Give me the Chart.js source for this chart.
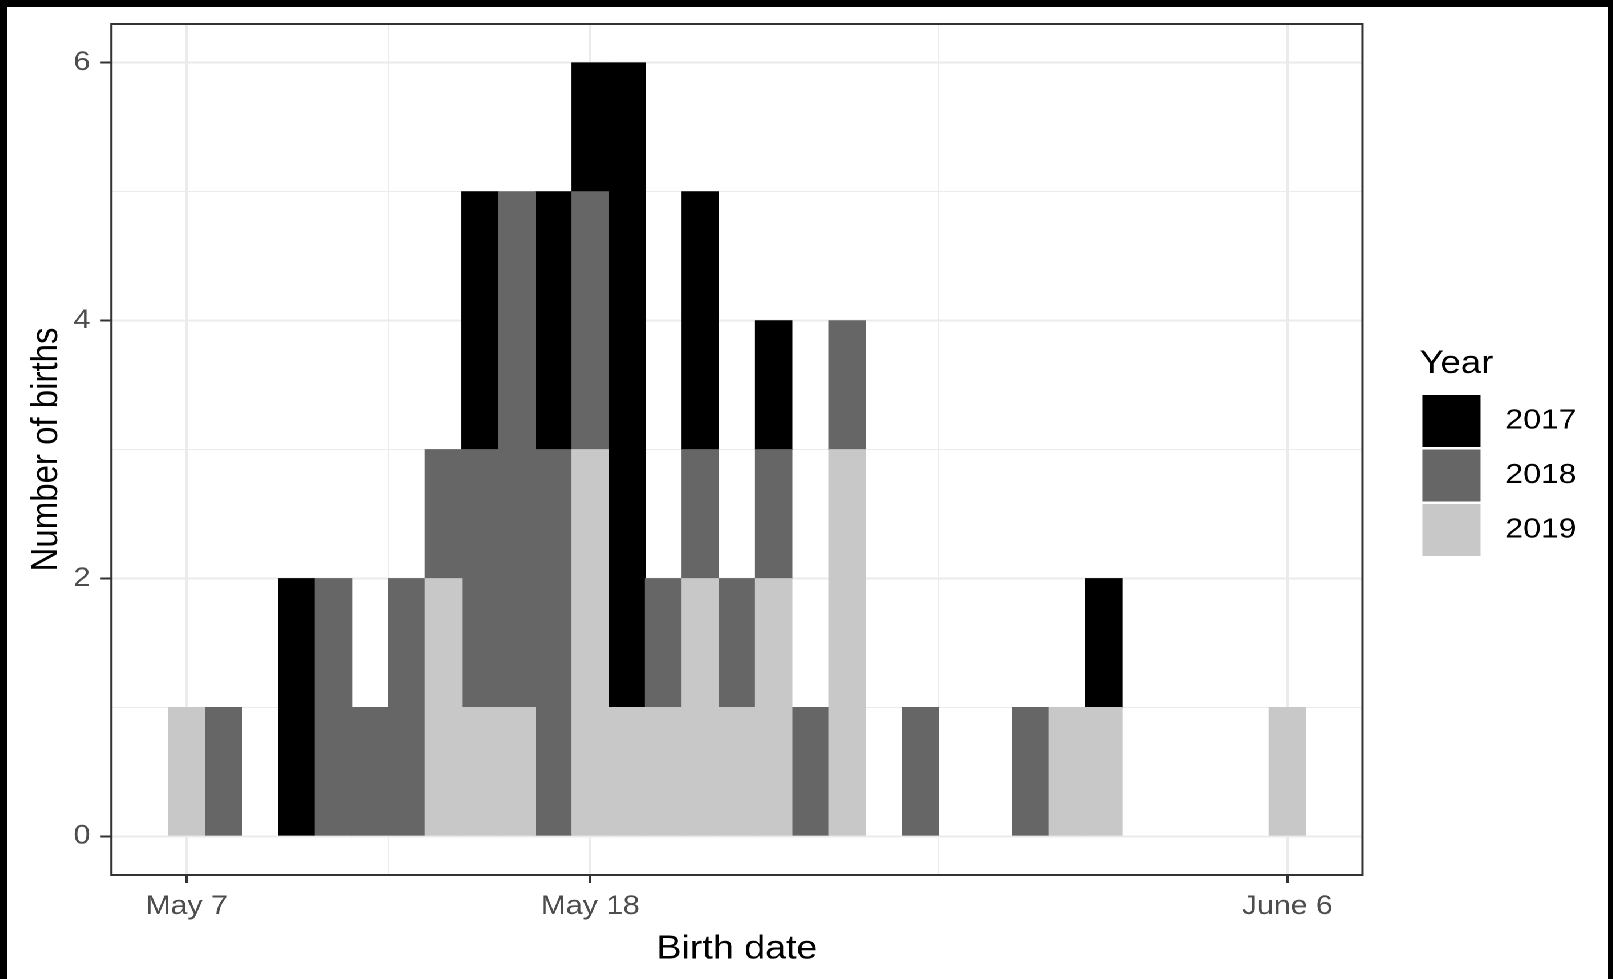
<!DOCTYPE html>
<html>
<head>
<meta charset="utf-8">
<script src="https://cdn.jsdelivr.net/npm/chart.js@4/dist/chart.umd.min.js"></script>
<style>
  html, body { margin: 0; padding: 0; background: #000; overflow: hidden; }
  #wrap {
    position: absolute; left: 7px; top: 7px;
    width: 1404px; height: 972px;
    background: #fff;
    transform: scaleX(1.1403); transform-origin: 0 0;
  }
</style>
</head>
<body>
<div id="wrap"><canvas id="chart"></canvas></div>
<script>
// days counted from May 7
const dayOffsets = [0, 1, 2, 3, 4, 5, 6, 7, 8, 9, 10, 11, 12, 13, 14, 15, 16, 17, 18, 19, 20, 21, 22, 23, 24, 25, 26, 27, 28, 29, 30];
const births2017 = [0, 0, 0, 2, 0, 0, 0, 0, 2, 0, 2, 1, 5, 0, 2, 0, 1, 0, 0, 0, 0, 0, 0, 0, 0, 1, 0, 0, 0, 0, 0];
const births2018 = [0, 1, 0, 0, 2, 1, 2, 1, 2, 4, 3, 2, 0, 1, 1, 1, 1, 1, 1, 0, 1, 0, 0, 1, 0, 0, 0, 0, 0, 0, 0];
const births2019 = [1, 0, 0, 0, 0, 0, 0, 2, 1, 1, 0, 3, 1, 1, 2, 1, 2, 0, 3, 0, 0, 0, 0, 0, 1, 1, 0, 0, 0, 0, 1];

const xTickDays = [0, 11, 30];
const xTickLabels = ["May 7", "May 18", "June 6"];
const yTicks = [0, 2, 4, 6];

const ink = "#333333";
const gridCol = "#EBEBEB";
const font = "'Liberation Sans', Arial, sans-serif";

function midpoints(arr) {
  let out = [];
  for (let i = 0; i < arr.length - 1; i++) out.push((arr[i] + arr[i + 1]) / 2);
  return out;
}
const xMinor = midpoints(xTickDays);
const yMinor = midpoints(yTicks);

// empty days get no bar at all
function toPoints(values) {
  return values.map((v, i) => ({ x: dayOffsets[i], y: v === 0 ? null : v }));
}

const panelBorder = {
  id: "panelBorder",
  afterDatasetsDraw(chart) {
    const { ctx, chartArea: a } = chart;
    ctx.save();
    ctx.strokeStyle = ink;
    ctx.lineWidth = 2;
    ctx.strokeRect(a.left, a.top, a.right - a.left, a.bottom - a.top);
    ctx.restore();
  }
};

Chart.defaults.font.family = font;

new Chart(document.getElementById("chart"), {
  type: "bar",
  data: {
    datasets: [
      { label: "2019", data: toPoints(births2019), backgroundColor: "#C8C8C8", borderWidth: 0 },
      { label: "2018", data: toPoints(births2018), backgroundColor: "#666666", borderWidth: 0 },
      { label: "2017", data: toPoints(births2017), backgroundColor: "#000000", borderWidth: 0 }
    ]
  },
  plugins: [panelBorder],
  options: {
    responsive: true,
    maintainAspectRatio: false,
    animation: false,
    devicePixelRatio: 2,
    barPercentage: 1,
    categoryPercentage: 1,
    layout: { padding: { top: 17, right: 17.7, bottom: 0, left: 0 } },
    plugins: {
      tooltip: { enabled: false },
      legend: {
        position: "right",
        fullSize: false,
        reverse: true,
        title: {
          display: true,
          text: "Year",
          position: "start",
          color: "#000",
          font: { size: 32 },
          padding: { top: 7.5, bottom: 6.1 }
        },
        labels: {
          boxWidth: 51,
          boxHeight: 52,
          padding: 2.5,
          color: "#000",
          font: { size: 28 },
          generateLabels(chart) {
            return Chart.defaults.plugins.legend.labels.generateLabels(chart)
              .map(item => { item.text = " " + item.text; item.lineWidth = 0; return item; });
          }
        }
      }
    },
    scales: {
      x: {
        type: "linear",
        stacked: true,
        offset: false,
        min: -2.05,
        max: 32.05,
        afterBuildTicks: s => { s.ticks = xTickDays.concat(xMinor).sort((a, b) => a - b).map(v => ({ value: v })); },
        afterFit: s => { s.height = 104; s.paddingLeft = 0; s.paddingRight = 0; },
        grid: {
          offset: false,
          color: gridCol,
          lineWidth: c => xTickDays.includes(c.tick.value) ? 2 : 1,
          tickLength: 8,
          tickWidth: 2,
          tickColor: c => xTickDays.includes(c.tick.value) ? ink : "rgba(0,0,0,0)"
        },
        border: { display: false },
        ticks: {
          autoSkip: false,
          maxRotation: 0,
          minRotation: 0,
          padding: 8,
          color: "#4D4D4D",
          font: { size: 26.5 },
          callback: v => { const i = xTickDays.indexOf(v); return i >= 0 ? xTickLabels[i] : ""; }
        },
        title: {
          display: true,
          text: "Birth date",
          color: "#000",
          font: { size: 33 },
          padding: { top: 7, bottom: 9.6 }
        }
      },
      y: {
        stacked: true,
        min: -0.3,
        max: 6.3,
        afterBuildTicks: s => { s.ticks = yTicks.concat(yMinor).sort((a, b) => a - b).map(v => ({ value: v })); },
        afterFit: s => { s.width = 91.6; s.paddingTop = 0; s.paddingBottom = 0; },
        grid: {
          color: gridCol,
          lineWidth: c => yTicks.includes(c.tick.value) ? 2 : 1,
          tickLength: 10,
          tickWidth: 2,
          tickColor: c => yTicks.includes(c.tick.value) ? ink : "rgba(0,0,0,0)"
        },
        border: { display: false },
        ticks: {
          autoSkip: false,
          padding: 8.5,
          color: "#4D4D4D",
          font: { size: 26.5 },
          callback: v => yTicks.includes(v) ? String(v) : ""
        },
        title: {
          display: true,
          text: "Number of births",
          color: "#000",
          font: { size: 33 },
          padding: { top: 15.3, bottom: 0 }
        }
      },
      gap: {
        type: "linear",
        position: "right",
        grid: { display: false },
        border: { display: false },
        ticks: { display: false },
        afterFit: s => { s.width = 50; }
      }
    }
  }
});
</script>
</body>
</html>
